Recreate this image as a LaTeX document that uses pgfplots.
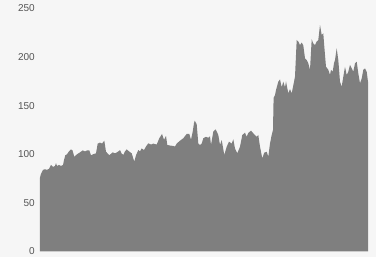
\documentclass[border=0pt]{standalone}
\usepackage{pgfplots}
\pgfplotsset{compat=1.18}
\usepackage{fontspec}
\setmainfont{Liberation Sans}
\definecolor{bg}{HTML}{F6F6F6}
\definecolor{area}{HTML}{7F7F7F}
\definecolor{txt}{HTML}{555555}
\begin{document}
\begin{tikzpicture}[x=1pt,y=1pt]
\fill[bg] (0,0) rectangle (376,257);
\begin{axis}[
  at={(40pt,5.5pt)}, anchor=origin,
  scale only axis, width=328pt, height=243pt,
  xmin=40, xmax=368, ymin=0, ymax=250,
  axis lines=none,
  xtick=\empty,
  ytick={0,50,100,150,200,250},
  major tick length=0pt,
  yticklabel style={anchor=east, inner sep=0pt, xshift=-5pt, font=\fontsize{10}{12}\selectfont, text=txt},
  /pgf/number format/assume math mode=true,
  clip=false,
]
\pgfplotsextra{\foreach \yv in {0,50,100,150,200,250}{\node[anchor=east,inner sep=0pt,font=\fontsize{10}{12}\selectfont,text=txt] at (axis cs:40,\yv) [xshift=-5pt] {\yv};}}
\addplot[fill=area, draw=none] coordinates {
(40,76) (40.7,79) (42,82) (43,84) (45,84.6) (47,84) (49,85) (51,89) (53,87) (55,88) (56,91) (57,88) (59,89) (61,88) (63,89) (64,94) (65.3,99) (67,100) (69,103) (71,105) (72.5,104) (74.3,97.5) (77,100) (80,102) (82.7,104) (85,103) (87,104) (89.3,104) (91,99) (93,100) (96,101) (97.7,111) (100,112) (102,111) (104.3,114) (106,102.7) (109.3,99) (112.7,102) (115,101) (117,102) (119.3,103.7) (120,104.4) (121.5,101) (123.3,99.3) (125,103) (126.7,105) (129,103) (131.7,101) (134.3,92.4) (136,99) (138.3,104.4) (140,103) (141.7,106) (144,104.4) (146,108) (148.3,111.3) (151,110) (153.3,111) (156.7,110) (159.3,116.5) (162,120.9) (164,115) (166,118.8) (167.3,109.6) (170,109) (173.3,108.6) (175,108) (176.7,111) (180,114) (183.3,116.5) (186.7,120.9) (189.3,121) (191,115) (192.7,123.3) (194,132) (194.7,134.6) (196.7,131) (198.3,111) (200,109.6) (201.7,111) (203.3,116.5) (206,118) (208.3,117) (210,118.5) (211,109.6) (213.3,123.3) (215.7,125.7) (218.3,119.9) (220,109.6) (221.7,114.7) (224.3,99.3) (226.7,107.8) (229,113) (231.7,111) (233.3,115.4) (235,106) (237.3,101) (240,107.8) (242.3,119.9) (245,122.2) (246.7,118) (248.3,122) (251,124.3) (253.3,121.6) (256.7,118) (258.3,119.9) (260,107.8) (262.3,95.9) (264.3,101.7) (266.7,102.6) (268.3,97.5) (270,111) (271.7,119.9) (273,125) (273.6,158) (275,161) (276,166) (278.3,174.7) (280,177) (281.7,169) (283.3,174.7) (285,169) (286,175) (288.3,162.8) (290,167) (291.7,162.8) (293.3,171) (295,179.8) (296.7,217.6) (298.3,216) (300,212.4) (301.7,215) (303.3,212) (305,198.8) (306.7,197) (308.3,193.6) (310,186.8) (311.7,218.3) (313.3,214) (315,212.4) (316.7,216) (318.3,217.6) (320,233) (321.7,222.7) (323.3,224.4) (324.3,210.8) (326,190.1) (328.3,187) (330,181.6) (331,186.8) (332.7,185) (334,193.6) (335,197) (336.7,209) (338.3,197) (340,174.7) (341.7,169.6) (343.3,179.8) (345,190) (346.7,181.6) (348.3,185) (350,191.9) (351.7,188.5) (353.3,185) (355,193.6) (356.7,195.3) (358.3,183.3) (360,173) (361.7,178) (363.3,186.8) (365,188.5) (366.7,185) (368,174.7)
} \closedcycle;
\end{axis}
\end{tikzpicture}
\end{document}
